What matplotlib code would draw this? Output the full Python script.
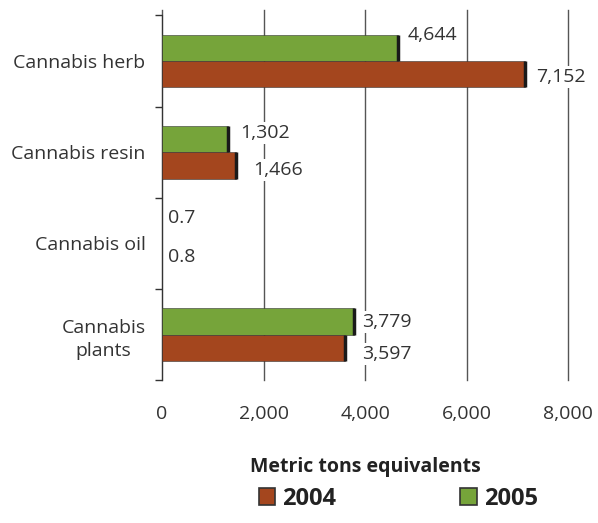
import numpy as np
import matplotlib
matplotlib.use('Agg')
import matplotlib.pyplot as plt
from matplotlib.patches import Patch

categories = ['Cannabis herb', 'Cannabis resin', 'Cannabis oil', 'Cannabis\nplants']
values_2004 = [7152, 1466, 0.8, 3597]
values_2005 = [4644, 1302, 0.7, 3779]
labels_2004 = ['7,152', '1,466', '0.8', '3,597']
labels_2005 = ['4,644', '1,302', '0.7', '3,779']
xticks = [0, 2000, 4000, 6000, 8000]
xtick_labels = ['0', '2,000', '4,000', '6,000', '8,000']

plt.rcParams['font.family'] = ['Open Sans', 'DejaVu Sans']

c2004 = '#A4461E'
c2005 = '#76A43A'
txt = '#333333'
fs = 14

fig = plt.figure(figsize=(5.98, 5.23), dpi=100)
ax = fig.add_axes([0.271, 0.273, 0.679, 0.708])

y = np.arange(len(categories))
h = 0.29
v04 = np.array(values_2004)
v05 = np.array(values_2005)

ax.barh(y - h / 2, v05, height=h, color=c2005, edgecolor='#333333', linewidth=0.4, zorder=3)
ax.barh(y + h / 2, v04, height=h, color=c2004, edgecolor='#333333', linewidth=0.4, zorder=3)
# dark shadow edge at the end of each bar (skip the tiny oil values)
big05 = v05 > 10
big04 = v04 > 10
ax.vlines(v05[big05], (y - h)[big05], y[big05], color='#1a1a1a', linewidth=2.5, zorder=4)
ax.vlines(v04[big04], y[big04], (y + h)[big04], color='#1a1a1a', linewidth=2.5, zorder=4)

# label offsets in pixels (dx, dy)
off_2005 = [(10, 13), (12, 6), (6, 12), (8, -1)]
off_2004 = [(11, -3), (17, -5), (6, 0), (17, -6)]
for i in range(len(categories)):
    ax.annotate(labels_2005[i], (values_2005[i], y[i] - h / 2), xytext=off_2005[i],
                textcoords='offset pixels', va='center', ha='left', fontsize=fs,
                color=txt, zorder=5,
                bbox=dict(boxstyle='square,pad=0.1', fc='white', ec='none'))
    ax.annotate(labels_2004[i], (values_2004[i], y[i] + h / 2), xytext=off_2004[i],
                textcoords='offset pixels', va='center', ha='left', fontsize=fs,
                color=txt, zorder=5,
                bbox=dict(boxstyle='square,pad=0.1', fc='white', ec='none'))

ax.set_xlim(0, 8000)
ax.set_ylim(3.5, -0.56)
ax.set_xticks(xticks)
ax.set_xticklabels(xtick_labels, fontsize=fs, color=txt)
ax.tick_params(axis='x', length=0, pad=18)
ax.xaxis.grid(True, color='#555555', linewidth=1.0, zorder=0)
for gl in ax.get_xgridlines():
    gl.set_clip_on(False)

ax.set_yticks(y)
ax.set_yticklabels(categories, fontsize=fs, color=txt, multialignment='center', linespacing=1.4)
ax.tick_params(axis='y', which='major', length=0, pad=12)
ax.set_yticks(np.arange(-0.5, 4, 1), minor=True)
ax.tick_params(axis='y', which='minor', length=5, width=1, color='#333333')

for s in ['top', 'right', 'bottom']:
    ax.spines[s].set_visible(False)
ax.spines['left'].set_color('#333333')
ax.spines['left'].set_bounds(-0.5, 3.5)

ax.set_xlabel('Metric tons equivalents', fontsize=14, fontweight='bold', color='#222222', labelpad=24)

handles = [Patch(facecolor=c2004, edgecolor='#333333', linewidth=1.2, label='2004'),
           Patch(facecolor=c2005, edgecolor='#333333', linewidth=1.2, label='2005')]
leg = fig.legend(handles=handles, loc='center', bbox_to_anchor=(0.666, 0.046), ncol=2,
                 frameon=False, columnspacing=5.25, handlelength=0.7, handleheight=0.7,
                 handletextpad=0.3, prop={'weight': 'bold', 'size': 17})
for t in leg.get_texts():
    t.set_color('#222222')

fig.savefig('out.png', dpi=100)
